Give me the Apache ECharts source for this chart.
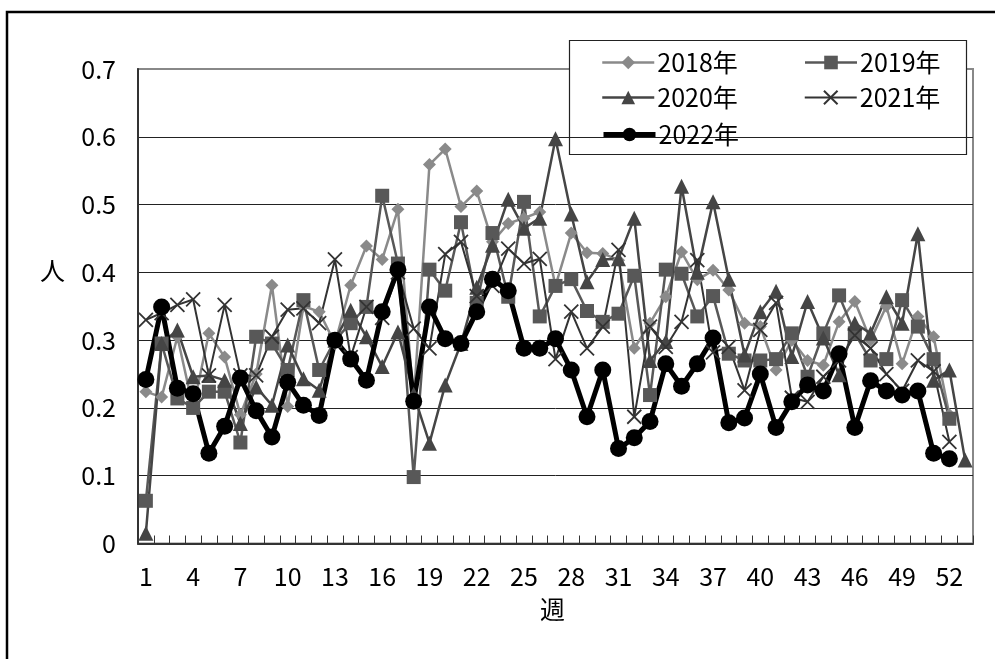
<!DOCTYPE html>
<html>
<head>
<meta charset="utf-8">
<script src="https://cdn.jsdelivr.net/npm/echarts@6/dist/echarts.min.js"></script>
<style>
html,body{margin:0;padding:0;background:#fff;}
#c{width:995px;height:659px;}
</style>
</head>
<body>
<div id="c"></div>
<script>
const weeks = ['1','2','3','4','5','6','7','8','9','10','11','12','13','14','15','16','17','18','19','20',
  '21','22','23','24','25','26','27','28','29','30','31','32','33','34','35','36','37','38','39','40',
  '41','42','43','44','45','46','47','48','49','50','51','52','53'];
const yTickLabels = ['0','0.1','0.2','0.3','0.4','0.5','0.6','0.7'];
const seriesNames = ['2018年','2019年','2020年','2021年','2022年'];

const y2018 = [0.224,0.216,0.305,0.200,0.310,0.275,0.190,0.250,0.381,0.202,
  0.350,0.342,0.295,0.381,0.439,0.419,0.493,0.210,0.559,0.582,
  0.497,0.520,0.445,0.472,0.480,0.489,0.380,0.458,0.429,0.428,
  0.418,0.288,0.325,0.364,0.430,0.389,0.403,0.374,0.325,0.320,
  0.256,0.300,0.270,0.263,0.327,0.357,0.300,0.350,0.265,0.335,
  0.305,0.190];
const y2019 = [0.063,0.295,0.214,0.200,0.224,0.224,0.149,0.305,0.295,0.256,
  0.359,0.256,0.300,0.325,0.349,0.513,0.413,0.098,0.404,0.373,
  0.474,0.355,0.458,0.364,0.504,0.335,0.380,0.390,0.343,0.327,
  0.339,0.395,0.219,0.404,0.398,0.335,0.365,0.280,0.270,0.270,
  0.272,0.310,0.246,0.310,0.366,0.310,0.270,0.272,0.359,0.320,
  0.272,0.184];
const y2020 = [0.015,0.295,0.315,0.246,0.248,0.241,0.177,0.231,0.204,0.293,
  0.243,0.226,0.300,0.344,0.305,0.261,0.312,0.220,0.148,0.234,
  0.295,0.378,0.440,0.508,0.465,0.480,0.597,0.486,0.386,0.419,
  0.420,0.480,0.270,0.298,0.527,0.400,0.504,0.390,0.278,0.342,
  0.372,0.276,0.357,0.303,0.249,0.325,0.310,0.364,0.325,0.457,
  0.241,0.256,0.123];
const y2021 = [0.330,0.340,0.352,0.360,0.248,0.352,0.248,0.248,0.305,0.345,
  0.347,0.325,0.419,0.275,0.349,0.333,0.400,0.317,0.288,0.427,
  0.445,0.365,0.380,0.435,0.413,0.420,0.272,0.342,0.288,0.320,
  0.433,0.187,0.320,0.290,0.327,0.418,0.282,0.290,0.226,0.315,
  0.355,0.215,0.209,0.246,0.270,0.307,0.288,0.250,0.225,0.270,
  0.254,0.150];
const y2022 = [0.242,0.349,0.229,0.221,0.133,0.173,0.244,0.196,0.157,0.238,
  0.204,0.189,0.300,0.272,0.241,0.342,0.404,0.210,0.349,0.302,
  0.295,0.342,0.390,0.373,0.288,0.288,0.302,0.256,0.187,0.256,
  0.140,0.156,0.180,0.265,0.232,0.265,0.303,0.178,0.185,0.250,
  0.171,0.209,0.234,0.225,0.280,0.171,0.240,0.225,0.219,0.225,
  0.133,0.125];

const FONT = "'Liberation Sans Narrow','Noto Sans CJK JP',sans-serif";
const FS = 25;
const X_PATH = 'path://M0,0L10,10M10,0L0,10';

const chart = echarts.init(document.getElementById('c'), null, {renderer:'canvas'});

function lineSeries(name, data, color, symbol, size, width, extra) {
  return Object.assign({
    name: name, type: 'line', data: data,
    symbol: symbol, symbolSize: size, showAllSymbol: true,
    lineStyle: {color: color, width: width},
    itemStyle: {color: color},
    emphasis: {disabled: true},
    animation: false
  }, extra || {});
}

const legendCommon = {
  left: 601, itemWidth: 52, itemHeight: 17, itemGap: 66,
  textStyle: {fontFamily: FONT, fontSize: FS, color: '#000', padding: [0,0,0,-2]},
  selectedMode: false, padding: 0
};

chart.setOption({
  backgroundColor: '#fff',
  animation: false,
  grid: {left: 138, top: 69, right: 22, bottom: 115.5, show: true, borderColor: '#888', borderWidth: 2, backgroundColor: 'transparent'},
  xAxis: {
    type: 'category', data: weeks, boundaryGap: true,
    axisLine: {lineStyle: {color: '#333', width: 2}},
    axisTick: {show: true, inside: true, length: 8, interval: 0, lineStyle: {color: '#333', width: 1}},
    axisLabel: {interval: 2, margin: 20, fontFamily: FONT, fontSize: FS, color: '#000'},
    splitLine: {show: false}
  },
  yAxis: {
    type: 'value', min: 0, max: 0.7, interval: 0.1,
    axisLine: {show: true, lineStyle: {color: '#333', width: 2}},
    axisTick: {show: false},
    axisLabel: {margin: 22, fontFamily: FONT, fontSize: FS, color: '#000',
      formatter: function (v) { return yTickLabels[Math.round(v * 10)]; }},
    splitLine: {show: true, showMinLine: false, showMaxLine: false, lineStyle: {color: '#222', width: 1}}
  },
  legend: [
    Object.assign({top: 50, data: [
      {name: seriesNames[0], lineStyle: {width: 2.5}},
      {name: seriesNames[1], lineStyle: {width: 2.5}}]}, legendCommon),
    Object.assign({top: 85, data: [
      {name: seriesNames[2], lineStyle: {width: 2.5}},
      {name: seriesNames[3], lineStyle: {width: 2}}]}, legendCommon),
    Object.assign({top: 122, data: [
      {name: seriesNames[4], lineStyle: {width: 5}}]}, legendCommon)
  ],
  graphic: [
    {type: 'rect', shape: {x: 7, y: 12, width: 1000, height: 700}, style: {fill: 'none', stroke: '#000', lineWidth: 2.5}, z: 100, silent: true},
    {type: 'rect', shape: {x: 569.5, y: 40.5, width: 397, height: 114}, style: {fill: '#fff', stroke: '#222', lineWidth: 1.2}, z: 0, zlevel: 0, silent: true},
    {type: 'text', left: 40, top: 258, style: {text: '人', font: FS + 'px ' + FONT, fill: '#000'}, silent: true},
    {type: 'text', left: 540, top: 597, style: {text: '週', font: FS + 'px ' + FONT, fill: '#000'}, silent: true}
  ],
  series: [
    lineSeries(seriesNames[0], y2018, '#8a8a8a', 'diamond', 13, 2.5),
    lineSeries(seriesNames[1], y2019, '#585858', 'rect', 14, 2.5),
    lineSeries(seriesNames[2], y2020, '#454545', 'triangle', 15, 2.5),
    lineSeries(seriesNames[3], y2021, '#333333', X_PATH, 14, 2, {itemStyle: {color: '#333', borderColor: '#333', borderWidth: 1.8}}),
    lineSeries(seriesNames[4], y2022, '#000000', 'circle', 17, 5)
  ]
});
</script>
</body>
</html>
